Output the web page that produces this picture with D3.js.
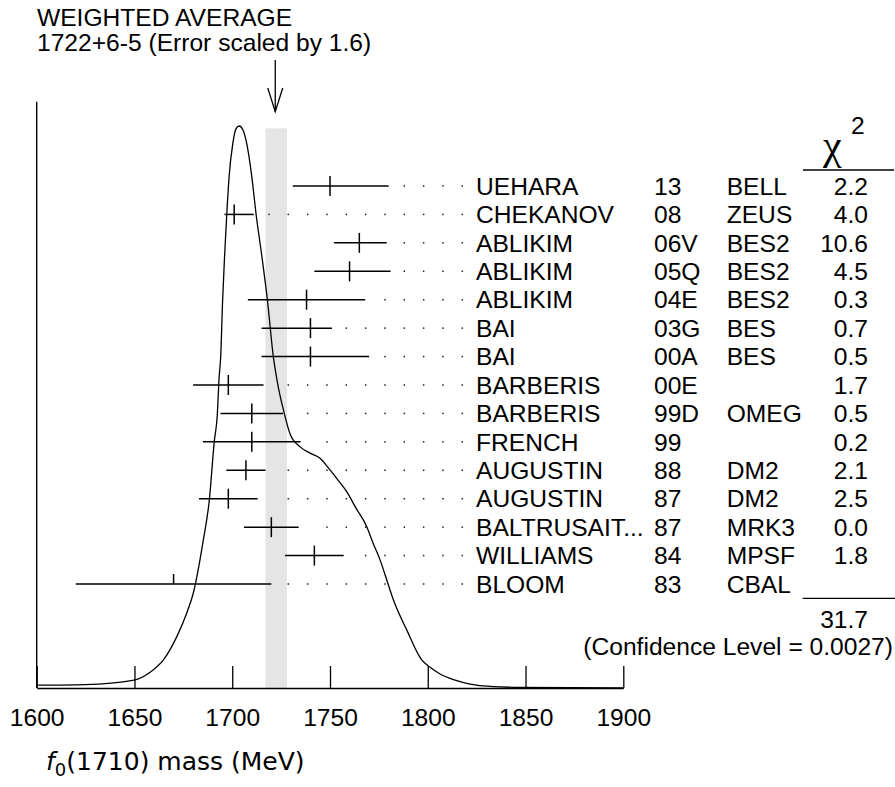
<!DOCTYPE html>
<html><head><meta charset="utf-8">
<script src="https://cdn.jsdelivr.net/npm/d3@7"></script>
<style>body{margin:0;background:#fff} svg{display:block}</style>
</head><body>
<svg id="chart" width="895" height="787"></svg>
<script>
// ---------- data ----------
const authors = ["UEHARA","CHEKANOV","ABLIKIM","ABLIKIM","ABLIKIM","BAI","BAI","BARBERIS","BARBERIS","FRENCH","AUGUSTIN","AUGUSTIN","BALTRUSAIT...","WILLIAMS","BLOOM"];
const years = ["13","08","06V","05Q","04E","03G","00A","00E","99D","99","88","87","87","84","83"];
const experiments = ["BELL","ZEUS","BES2","BES2","BES2","BES","BES","","OMEG","","DM2","DM2","MRK3","MPSF","CBAL"];
const masses = [1750,1701,1765,1760,1738,1740,1740,1698,1710,1710,1707,1698,1720,1742,1670];
const errLow = [19,5,13,18,30,25,25,18,16,25,10,15,14,15,50];
const errHigh = [30,10,14,21,30,11,30,18,16,25,10,15,14,15,50];
const chi2 = ["2.2","4.0","10.6","4.5","0.3","0.7","0.5","1.7","0.5","0.2","2.1","2.5","0.0","1.8",""];
const usedInFit = [true,true,true,true,true,true,true,true,true,true,true,true,true,true,false];
const chi2Total = "31.7";
const confidenceText = "(Confidence Level = 0.0027)";
const titleLines = ["WEIGHTED AVERAGE","1722+6-5 (Error scaled by 1.6)"];
const avgValue = 1722, avgErrHigh = 6, avgErrLow = 5;
const xTicks = [1600,1650,1700,1750,1800,1850,1900];
// ideogram curve (mass, relative height)
const curveMass = [1600,1624.7,1649.8,1658.0,1664.8,1671.6,1676.7,1680.1,1685.2,1688.3,1690.8,1692.4,1693.2,1694.1,1695.1,1696.0,1697.2,1698.4,1700.3,1701.9,1703.6,
  1705.5,1707.4,1710.0,1712.2,1715.2,1718.0,1721.0,1723.1,1726.6,1729.6,1734.7,1739.8,1744.9,1750.0,1754.1,1758.6,1763.3,1768.8,1772.0,1775.6,1779.7,1782.4,1789.3,1796.9,1801.2,1806.3,1814.0,1821.6,1831.8,1847.2,1900];
const curveHeight = [0.005,0.006,0.014,0.028,0.050,0.091,0.133,0.169,0.263,0.335,0.438,0.488,0.548,0.590,0.691,0.762,0.843,0.910,0.969,0.995,1.0,
  0.993,0.969,0.910,0.843,0.767,0.690,0.590,0.544,0.489,0.452,0.429,0.418,0.409,0.388,0.370,0.349,0.320,0.287,0.258,0.228,0.185,0.157,0.103,0.050,0.037,0.025,0.014,0.007,0.003,0.001,0.0];

// ---------- layout ----------
const svg = d3.select("#chart");
const Y0 = 688;            // axis baseline
const FONT = "'Liberation Sans', Arial, Helvetica, sans-serif";
const FS = 24.6;
const x = d3.scaleLinear().domain([1600,1900]).range([36.7,623.3]);
const yCurve = d3.scaleLinear().domain([0,1]).range([Y0,126]);
const rowY = d3.scaleLinear().domain([0,authors.length-1]).range([186,584]);

// weighted average band
svg.append("rect")
  .attr("x", x(avgValue-avgErrLow)).attr("width", x(avgValue+avgErrHigh)-x(avgValue-avgErrLow))
  .attr("y", 128.3).attr("height", Y0-128.3)
  .attr("fill", "#e5e5e5");

// dotted leaders
const nameX = 476, dotStep = 19.33, lastDot = 462.3, dotGap = 12.5;
authors.forEach((a,i)=>{
  const end = x(masses[i]+errHigh[i]);
  for(let px = lastDot; px > end + dotGap; px -= dotStep){
    svg.append("rect").attr("x", px-0.75).attr("y", rowY(i)-0.75)
      .attr("width",1.5).attr("height",1.5).attr("fill","#222");
  }
});

// error bars
const g = svg.append("g").attr("stroke","#000").attr("stroke-width",1.5);
masses.forEach((m,i)=>{
  const yy = rowY(i);
  g.append("line").attr("x1", x(m-errLow[i])).attr("x2", x(m+errHigh[i])).attr("y1",yy).attr("y2",yy);
  g.append("line").attr("x1", x(m)).attr("x2", x(m)).attr("y1", yy-10).attr("y2", usedInFit[i]? yy+10 : yy);
});

// ideogram curve
const pts = curveMass.map((m,i)=>[m,curveHeight[i]]);
svg.append("path").datum(pts)
  .attr("d", d3.line().x(d=>x(d[0])).y(d=>yCurve(d[1])).curve(d3.curveMonotoneX))
  .attr("fill","none").attr("stroke","#000").attr("stroke-width",1.3);

// axes
svg.append("line").attr("x1",x(1600)).attr("x2",x(1600)).attr("y1",101.7).attr("y2",Y0)
  .attr("stroke","#000").attr("stroke-width",1.4);
const axis = d3.axisBottom(x).tickValues(xTicks).tickFormat(d3.format("d"))
  .tickSize(-22).tickSizeOuter(0).tickPadding(21);
const ag = svg.append("g").attr("transform",`translate(0,${Y0})`).call(axis);
ag.select(".domain").attr("stroke","#000").attr("stroke-width",1.4);
ag.selectAll(".tick line").attr("stroke","#000").attr("stroke-width",1.3);
ag.selectAll(".tick text").attr("font-family",FONT).attr("font-size",FS).attr("fill","#000");

// title and arrow
titleLines.forEach((t,i)=>{
  svg.append("text").attr("x",37).attr("y",25.5+25*i).attr("font-family",FONT).attr("font-size",FS).text(t);
});
const ax = x(avgValue);
svg.append("line").attr("x1",ax).attr("x2",ax).attr("y1",60).attr("y2",111.7).attr("stroke","#000").attr("stroke-width",1.3);
svg.append("path").attr("d",`M${ax-7.5},88 L${ax},111.7 L${ax+7.5},88`).attr("fill","none").attr("stroke","#000").attr("stroke-width",1.3);

// table
const colYear = 654, colExp = 726.7, colChi = 868;
authors.forEach((a,i)=>{
  const by = rowY(i)+8.7;
  svg.append("text").attr("x",nameX).attr("y",by).attr("font-family",FONT).attr("font-size",FS).text(a);
  svg.append("text").attr("x",colYear).attr("y",by).attr("font-family",FONT).attr("font-size",FS).text(years[i]);
  svg.append("text").attr("x",colExp).attr("y",by).attr("font-family",FONT).attr("font-size",FS).text(experiments[i]);
  svg.append("text").attr("x",colChi).attr("y",by).attr("text-anchor","end").attr("font-family",FONT).attr("font-size",FS).text(chi2[i]);
});
// chi2 header
svg.append("text").attr("x",823).attr("y",159).attr("font-family","'Liberation Serif','DejaVu Serif',serif").attr("font-size",42).text("χ");
svg.append("text").attr("x",851).attr("y",134).attr("font-family",FONT).attr("font-size",FS).text("2");
svg.append("line").attr("x1",803).attr("x2",894).attr("y1",170).attr("y2",170).attr("stroke","#000").attr("stroke-width",1.3);
svg.append("line").attr("x1",802.7).attr("x2",895).attr("y1",598.3).attr("y2",598.3).attr("stroke","#000").attr("stroke-width",1.3);
svg.append("text").attr("x",colChi).attr("y",627.7).attr("text-anchor","end").attr("font-family",FONT).attr("font-size",FS).text(chi2Total);
svg.append("text").attr("x",893).attr("y",655.4).attr("text-anchor","end").attr("font-family",FONT).attr("font-size",FS).text(confidenceText);

// x-axis title
const xt = svg.append("text").attr("x",46).attr("y",770).attr("font-family","'DejaVu Sans',sans-serif").attr("font-size",25);
xt.append("tspan").attr("font-style","italic").text("f");
xt.append("tspan").attr("font-size",18).attr("dy",6).text("0");
xt.append("tspan").attr("dy",-6).text("(1710) mass (MeV)");
</script>
</body></html>
